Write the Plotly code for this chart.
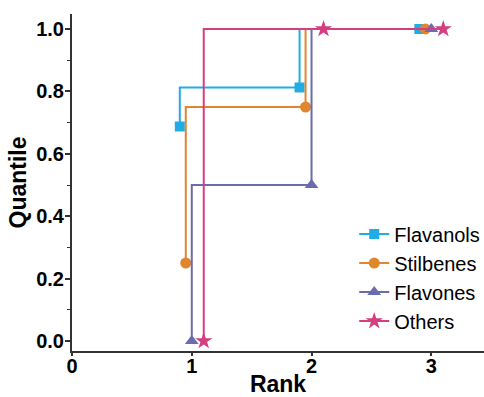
import plotly.graph_objects as go

series_names = ["Flavanols", "Stilbenes", "Flavones", "Others"]
ranks = [
    [0.9, 1.9, 2.9],
    [0.95, 1.95, 2.95],
    [1.0, 2.0, 3.0],
    [1.1, 2.1, 3.1],
]
quantiles = [
    [0.6875, 0.8125, 1.0],
    [0.25, 0.75, 1.0],
    [0.0, 0.5, 1.0],
    [0.0, 1.0, 1.0],
]
x_ticks = [0, 1, 2, 3]
y_ticks = [0.0, 0.2, 0.4, 0.6, 0.8, 1.0]
colors = ["#22ACE3", "#E0862E", "#6B6BB0", "#D43F80"]
symbols = ["square", "circle", "triangle-up", "star"]
sizes = [10, 11, 12, 13]

fig = go.Figure()
for name, xs, ys, c, s, sz in zip(series_names, ranks, quantiles, colors, symbols, sizes):
    fig.add_trace(go.Scatter(
        x=xs, y=ys, name=name, mode="lines+markers",
        line=dict(color=c, width=2, shape="vh"),
        marker=dict(color=c, symbol=s, size=sz, line=dict(width=0)),
        cliponaxis=False,
    ))

fig.update_layout(
    width=484, height=397,
    margin=dict(l=72, r=0, t=14, b=46, autoexpand=False),
    plot_bgcolor="white", paper_bgcolor="white",
    font=dict(family="Arial, Liberation Sans, sans-serif", color="black"),
    legend=dict(
        x=0.685, y=0.405, xanchor="left", yanchor="top",
        font=dict(size=20, color="black"),
        bgcolor="rgba(0,0,0,0)", tracegroupgap=0,
    ),
    showlegend=True,
)
fig.update_xaxes(
    range=[0, 3.44], tickvals=x_ticks,
    ticktext=["<b>%d</b>" % v for v in x_ticks],
    showgrid=False, zeroline=False, automargin=False,
    showline=True, linecolor="#333333", linewidth=2,
    ticks="outside", ticklen=3, tickwidth=1.5, tickcolor="#333333",
    ticklabelstandoff=-7,
    tickfont=dict(size=20, color="black"),
    title=dict(text="<b>Rank</b>", font=dict(size=23, color="black"), standoff=2),
)
fig.update_yaxes(
    range=[-0.032, 1.048], tickvals=y_ticks,
    ticktext=["<b>%.1f</b>" % v for v in y_ticks],
    showgrid=False, zeroline=False, automargin=False,
    showline=True, linecolor="#333333", linewidth=2,
    ticks="outside", ticklen=5, tickwidth=1.5, tickcolor="#333333",
    ticklabelstandoff=-3,
    minor=dict(ticks="outside", dtick=0.1, ticklen=3, tickwidth=1, tickcolor="#333333", showgrid=False),
    tickfont=dict(size=20, color="black"),
    title=dict(text="<b>Quantile</b>", font=dict(size=23, color="black"), standoff=3),
)

fig.write_html("out.html", config={"displayModeBar": False},
               post_script="document.body.style.margin='0';")
